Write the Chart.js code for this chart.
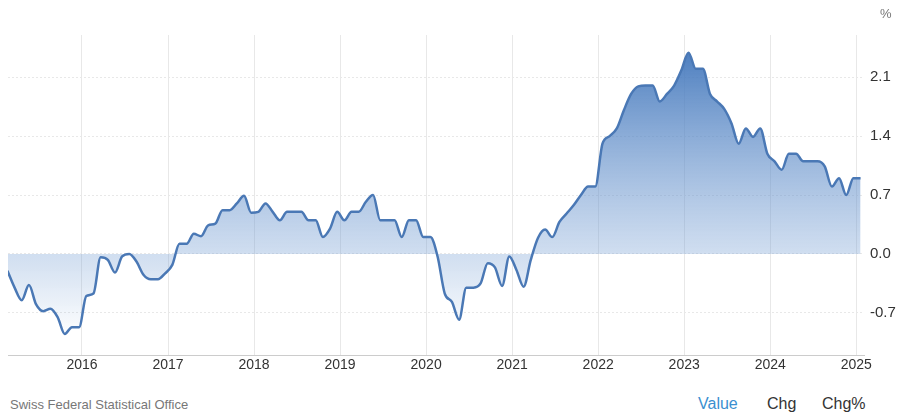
<!DOCTYPE html>
<html>
<head>
<meta charset="utf-8">
<script src="https://cdn.jsdelivr.net/npm/chart.js@4"></script>
<style>
  body { margin: 0; width: 900px; height: 420px; background: #fff; font-family: "Liberation Sans", Arial, sans-serif; overflow: hidden; }
  #wrap { position: absolute; left: 0; top: 0; width: 900px; height: 380px; }
  .unit { position: absolute; left: 880px; top: 6px; font-size: 13px; color: #777; }
  .src { position: absolute; left: 10px; top: 397px; font-size: 13px; color: #777; }
  .tab { position: absolute; top: 395px; font-size: 16px; color: #333; }
</style>
</head>
<body>
<div id="wrap"><canvas id="c"></canvas></div>
<div class="unit">%</div>
<div class="src">Swiss Federal Statistical Office</div>
<div class="tab" style="left:698px;color:#3a8fd0">Value</div>
<div class="tab" style="left:767px">Chg</div>
<div class="tab" style="left:822px">Chg%</div>
<script>
// monthly inflation rate, Feb 2015 .. Jan 2025
const startYear = 2015;
const startMonth = 2;
const values = [
  -0.2, -0.4, -0.55, -0.37, -0.6, -0.68, -0.65, -0.75, -0.95, -0.87, -0.87, -0.5,
  -0.47, -0.04, -0.07, -0.22, -0.03, 0.0, -0.09, -0.25, -0.3, -0.3, -0.23, -0.13,
  0.12, 0.12, 0.24, 0.21, 0.34, 0.36, 0.52, 0.52, 0.6, 0.69, 0.49, 0.5,
  0.6, 0.5, 0.4, 0.5, 0.5, 0.5, 0.4, 0.4, 0.2, 0.3, 0.5, 0.4,
  0.5, 0.5, 0.62, 0.7, 0.4, 0.4, 0.4, 0.2, 0.4, 0.4, 0.2, 0.2,
  -0.03, -0.47, -0.57, -0.78, -0.4, -0.4, -0.35, -0.11, -0.16, -0.38, -0.03, -0.19,
  -0.39, -0.07, 0.19, 0.29, 0.2, 0.38, 0.48, 0.58, 0.7, 0.8, 0.8, 1.31,
  1.4, 1.49, 1.71, 1.9, 1.99, 2.0, 2.0, 1.81, 1.9, 2.0, 2.18, 2.39,
  2.2, 2.2, 1.9, 1.81, 1.72, 1.55, 1.31, 1.49, 1.39, 1.49, 1.19, 1.1,
  1.0, 1.19, 1.19, 1.1, 1.1, 1.1, 1.04, 0.8, 0.9, 0.7, 0.9, 0.9
];
const yearTicks = [2016, 2017, 2018, 2019, 2020, 2021, 2022, 2023, 2024, 2025];
const valueTicks = [-0.7, 0.0, 0.7, 1.4, 2.1];

const points = values.map((v, i) => ({ x: startYear + (startMonth - 1 + i + 0.6) / 12, y: v }));

function fillGradient(ctx) {
  const chart = ctx.chart;
  const area = chart.chartArea;
  if (!area) return 'rgba(74,125,190,0.4)';
  const ys = chart.scales.y;
  const g = chart.ctx.createLinearGradient(0, ys.getPixelForValue(2.4), 0, ys.getPixelForValue(-1.0));
  g.addColorStop(0, 'rgba(68,120,188,0.95)');
  const z = (ys.getPixelForValue(0) - ys.getPixelForValue(2.4)) / (ys.getPixelForValue(-1.0) - ys.getPixelForValue(2.4));
  g.addColorStop(z, 'rgba(120,160,212,0.35)');
  g.addColorStop(1, 'rgba(120,160,212,0.0)');
  return g;
}

new Chart(document.getElementById('c'), {
  type: 'line',
  data: {
    datasets: [{
      data: points,
      borderColor: '#4a78b5',
      borderWidth: 2.5,
      pointRadius: 0,
      cubicInterpolationMode: 'monotone',
      fill: { value: 0 },
      backgroundColor: fillGradient
    }]
  },
  options: {
    responsive: true,
    maintainAspectRatio: false,
    animation: false,
    layout: { padding: { left: 8, top: 35, right: 0, bottom: 0 } },
    plugins: { legend: { display: false }, tooltip: { enabled: false } },
    scales: {
      x: {
        type: 'linear',
        min: 2015.14,
        max: 2025.09,
        afterBuildTicks: s => { s.ticks = yearTicks.map(v => ({ value: v })); },
        afterFit: s => { s.height = 25; },
        ticks: { color: '#333', font: { size: 14, family: 'Liberation Sans' }, padding: 2, callback: v => String(v), maxRotation: 0 },
        grid: { color: '#e8e8e8', drawTicks: false },
        border: { color: '#ccc' }
      },
      y: {
        position: 'right',
        min: -1.2,
        max: 2.6,
        afterBuildTicks: s => { s.ticks = valueTicks.map(v => ({ value: v })); },
        afterFit: s => { s.width = 36; },
        ticks: { color: '#333', font: { size: 15, family: 'Liberation Sans' }, padding: 6, callback: v => v.toFixed(1) },
        grid: { color: '#e8e8e8', drawTicks: false },
        border: { display: false, dash: [2, 2] }
      }
    }
  }
});
</script>
</body>
</html>
